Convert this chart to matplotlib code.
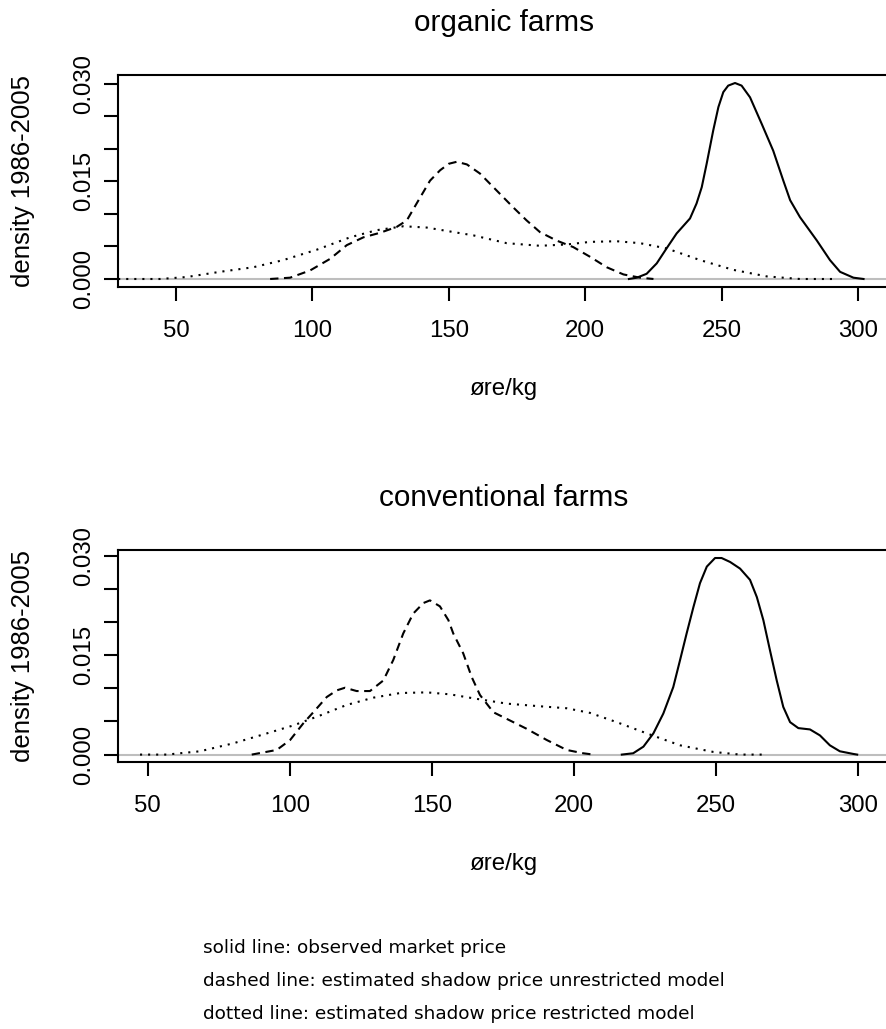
import matplotlib
matplotlib.use("Agg")
from matplotlib import pyplot as plt

plt.rcParams["font.family"] = ["Liberation Sans", "DejaVu Sans"]
plt.rcParams["lines.scale_dashes"] = False

# organic farms: x in øre/kg, y density
org_obs_x = [216.0, 218.9, 222.5, 226.2, 229.8, 233.5, 238.4, 240.8, 242.7, 244.5, 246.9, 248.8, 250.6,
             252.4, 254.9, 257.3, 260.4, 264.7, 268.9, 272.6, 275.1, 278.7, 284.9, 289.7, 293.4, 298.3, 302.0]
org_obs_y = [0.0, 0.0002, 0.0008, 0.0024, 0.0047, 0.0070, 0.0093, 0.0116, 0.0141, 0.0177, 0.0228, 0.0264, 0.0287,
             0.0297, 0.0301, 0.0297, 0.0279, 0.0238, 0.0197, 0.0151, 0.0121, 0.0095, 0.0059, 0.0029, 0.0011, 0.0002, 0.0]

org_unr_x = [84.5, 91.8, 99.1, 106.5, 112.6, 118.7, 124.8, 130.9, 134.6, 138.2, 143.1, 146.8, 150.0, 152.9,
             156.6, 161.4, 167.5, 173.6, 178.5, 183.4, 189.5, 195.6, 201.8, 207.9, 214.0, 220.1, 225.0]
org_unr_y = [0.0, 0.0002, 0.0013, 0.0031, 0.0052, 0.0064, 0.0071, 0.0080, 0.0090, 0.0116, 0.0151, 0.0167, 0.0177, 0.0180,
             0.0176, 0.0162, 0.0136, 0.0110, 0.0090, 0.0072, 0.0059, 0.0049, 0.0034, 0.0018, 0.0007, 0.0002, 0.0]

org_res_x = [28.8, 44.1, 53.9, 66.1, 78.3, 89.3, 101.6, 113.8, 123.6, 133.4, 141.9, 150.4, 159.0, 171.2,
             183.4, 193.2, 201.8, 211.5, 220.1, 229.8, 242.1, 254.3, 266.5, 278.7, 292.1]
org_res_y = [0.0, 0.0, 0.0003, 0.0011, 0.0018, 0.0029, 0.0045, 0.0064, 0.0075, 0.0081, 0.0079, 0.0073, 0.0067, 0.0055,
             0.0051, 0.0053, 0.0057, 0.0058, 0.0055, 0.0047, 0.0029, 0.0014, 0.0004, 0.0, 0.0]

# conventional farms
con_obs_x = [216.8, 220.8, 224.4, 227.9, 231.4, 234.9, 237.3, 239.6, 242.0, 244.3, 246.7, 249.6, 251.9, 254.9,
             258.4, 261.9, 264.3, 266.6, 268.9, 271.3, 273.6, 276.0, 278.9, 283.0, 286.5, 290.0, 293.5, 298.2, 299.6]
con_obs_y = [0.0, 0.0002, 0.0012, 0.0032, 0.0062, 0.0102, 0.0143, 0.0183, 0.0223, 0.0259, 0.0284, 0.0297, 0.0297, 0.0291,
             0.0281, 0.0264, 0.0238, 0.0203, 0.0158, 0.0112, 0.0072, 0.0049, 0.0040, 0.0038, 0.0029, 0.0014, 0.0005, 0.0001, 0.0]

con_unr_x = [86.6, 95.4, 100.1, 104.7, 108.9, 113.0, 116.5, 119.4, 123.5, 128.2, 132.9, 136.4, 139.9, 143.4, 147.0,
             149.3, 152.8, 155.8, 157.5, 161.0, 164.0, 166.9, 171.6, 176.3, 183.3, 190.4, 197.4, 203.2, 206.8]
con_unr_y = [0.0, 0.0007, 0.0022, 0.0047, 0.0067, 0.0087, 0.0097, 0.0101, 0.0096, 0.0096, 0.0112, 0.0143, 0.0183, 0.0213, 0.0229,
             0.0233, 0.0224, 0.0203, 0.0183, 0.0153, 0.0117, 0.0090, 0.0064, 0.0054, 0.0039, 0.0022, 0.0007, 0.0002, 0.0]

con_res_x = [47.3, 56.7, 68.4, 80.1, 91.9, 101.2, 110.6, 120.0, 129.4, 138.8, 148.2, 156.4, 164.6, 176.3,
             188.0, 197.4, 205.6, 215.0, 225.6, 237.3, 249.0, 258.4, 266.6]
con_res_y = [0.0, 0.0, 0.0005, 0.0017, 0.0032, 0.0044, 0.0059, 0.0075, 0.0086, 0.0093, 0.0094, 0.0091, 0.0085, 0.0077,
             0.0073, 0.0070, 0.0063, 0.0049, 0.0032, 0.0014, 0.0004, 0.0, 0.0]

x_ticks = [50, 100, 150, 200, 250, 300]
y_ticks = [0.0, 0.005, 0.010, 0.015, 0.020, 0.025, 0.030]
y_tick_labels = ["0.000", "", "", "0.015", "", "", "0.030"]

notes = ["solid line: observed market price",
         "dashed line: estimated shadow price unrestricted model",
         "dotted line: estimated shadow price restricted model"]

W, H = 887, 1029
fig = plt.figure(figsize=(W / 100, H / 100), dpi=100)


def panel(pos, title, obs, unr, res, xlim, ylim):
    ax = fig.add_axes(pos)
    ax.axhline(0, color="#bebebe", lw=1.5, zorder=1)
    ax.plot(obs[0], obs[1], color="black", lw=1.5, zorder=2)
    ax.plot(unr[0], unr[1], color="black", lw=1.5, linestyle=(0, (6, 4)), zorder=2)
    ax.plot(res[0], res[1], color="black", lw=1.5, linestyle=(0, (1.5, 4.3)), zorder=2)
    ax.set_xlim(*xlim)
    ax.set_ylim(*ylim)
    ax.set_xticks(x_ticks)
    ax.set_yticks(y_ticks)
    ax.set_yticklabels(y_tick_labels, rotation=90, va="center")
    ax.tick_params(axis="both", direction="out", length=10, width=1.5, labelsize=17.3)
    ax.tick_params(axis="x", pad=14)
    ax.tick_params(axis="y", pad=6.5)
    for s in ax.spines.values():
        s.set_linewidth(1.5)
    ax.set_title(title, fontsize=21.4, pad=31.7)
    ax.set_xlabel("øre/kg", fontsize=17.3)
    ax.xaxis.set_label_coords(0.5, -0.43)
    ax.set_ylabel("density 1986-2005", fontsize=18.5)
    ax.yaxis.set_label_coords(-0.1075, 0.5)
    return ax


left = 118 / W
width = (890 - 118) / W
panel([left, 1 - 287 / H, width, 212 / H], "organic farms",
      (org_obs_x, org_obs_y), (org_unr_x, org_unr_y), (org_res_x, org_res_y),
      (28.74, 311.7), (-0.00123, 0.03133))
panel([left, 1 - 762 / H, width, 212 / H], "conventional farms",
      (con_obs_x, con_obs_y), (con_unr_x, con_unr_y), (con_res_x, con_res_y),
      (39.55, 311.15), (-0.00112, 0.03091))

for i, line in enumerate(notes):
    fig.text(203 / W, 1 - (953 + 33 * i) / H, line, fontsize=13.3, family="DejaVu Sans", va="baseline")

fig.savefig("out.png", dpi=100)
